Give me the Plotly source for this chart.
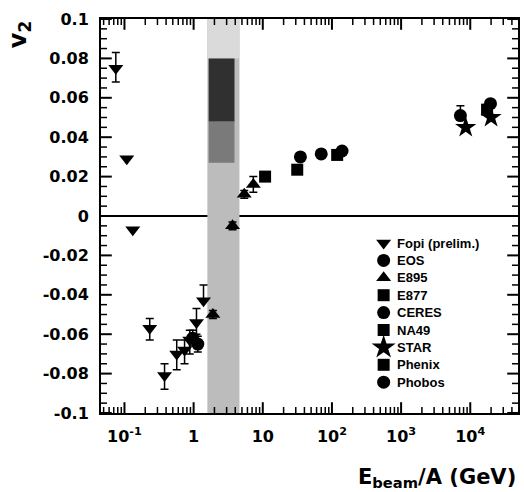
import math
import plotly.graph_objects as go

# ---------------- data ----------------
fopi_x = [0.075, 0.108, 0.132, 0.232, 0.38, 0.57, 0.74, 0.88, 1.1, 1.39]
fopi_y = [0.075, 0.029, -0.007, -0.057, -0.081, -0.070, -0.068, -0.063, -0.054, -0.043]
fopi_ep = [0.008, 0.0, 0.0, 0.005, 0.006, 0.007, 0.005, 0.005, 0.007, 0.008]
fopi_em = [0.007, 0.0, 0.0, 0.006, 0.007, 0.008, 0.007, 0.007, 0.006, 0.0]

eos_x = [0.97, 1.15]
eos_y = [-0.062, -0.065]
eos_err = [0.004, 0.004]

e895_x = [1.9, 3.65, 5.4, 7.3]
e895_y = [-0.050, -0.005, 0.011, 0.016]
e895_err = [0.002, 0.002, 0.002, 0.004]

e877_x = [10.8]
e877_y = [0.020]

ceres_x = [35, 70, 140]
ceres_y = [0.030, 0.0315, 0.033]

na49_x = [31.5, 119]
na49_y = [0.0235, 0.031]

star_x = [8600, 20000]
star_y = [0.045, 0.050]

phenix_x = [17500]
phenix_y = [0.054]

phobos_x = [7200, 19600]
phobos_y = [0.051, 0.057]
phobos_err = [0.005, 0.0]

# gray band (beam-energy window)
band_x = [1.58, 4.6]
band_dark_x = [1.65, 3.9]
band_light_y = [-0.1, 0.1]
band_top_y = [0.08, 0.1]
band_dark_y = [0.048, 0.08]
band_mid_y = [0.027, 0.048]

legend_names = ["Fopi (prelim.)", "EOS", "E895", "E877", "CERES", "NA49", "STAR", "Phenix", "Phobos"]
legend_symbols = ["triangle-down", "circle", "triangle-up", "square", "circle", "square", "star", "square", "circle"]
legend_sizes = [13, 13, 13, 12, 13, 12, 18, 12, 13]

x_tickvals = [0.1, 1, 10, 100, 1000, 10000]
x_ticktext = ["10<sup>-1</sup>", "1", "10", "10<sup>2</sup>", "10<sup>3</sup>", "10<sup>4</sup>"]
y_tickvals = [0.1, 0.08, 0.06, 0.04, 0.02, 0, -0.02, -0.04, -0.06, -0.08, -0.1]
y_ticktext = ["0.1", "0.08", "0.06", "0.04", "0.02", "0", "-0.02", "-0.04", "-0.06", "-0.08", "-0.1"]

FONT = "Liberation Sans"
TICKFONT = "DejaVu Sans"

# ---------------- layout geometry ----------------
W, H = 524, 492
ML, MR, MT, MB = 101, 4, 19, 79
PW, PH = W - ML - MR, H - MT - MB
X_RANGE = [math.log10(0.0458), math.log10(49000)]
Y_RANGE = [-0.1, 0.1]
DEC_PER_PX = (X_RANGE[1] - X_RANGE[0]) / PW
Y_PER_PX = (Y_RANGE[1] - Y_RANGE[0]) / PH

fig = go.Figure()


def rect(xr, yr, color):
    fig.add_trace(go.Scatter(
        x=[xr[0], xr[1], xr[1], xr[0], xr[0]],
        y=[yr[0], yr[0], yr[1], yr[1], yr[0]],
        fill="toself", fillcolor=color, mode="lines",
        line=dict(width=0, color=color), showlegend=False, hoverinfo="skip"))


rect(band_x, band_light_y, "#bcbcbc")
rect(band_x, band_top_y, "#dadada")
rect(band_dark_x, band_mid_y, "#7a7a7a")
rect(band_dark_x, band_dark_y, "#303030")


# ---------------- tick marks drawn as line markers ----------------
def add_ticks(xvals, yvals, length, width):
    half = length / 2.0
    yb = Y_RANGE[0] + half * Y_PER_PX
    yt = Y_RANGE[1] - half * Y_PER_PX
    xl = 10 ** (X_RANGE[0] + half * DEC_PER_PX)
    xr = 10 ** (X_RANGE[1] - half * DEC_PER_PX)
    mk = dict(color="black", size=length, line=dict(color="black", width=width))
    fig.add_trace(go.Scatter(x=list(xvals) * 2, y=[yb] * len(xvals) + [yt] * len(xvals),
                             mode="markers", marker=dict(symbol="line-ns", **mk),
                             showlegend=False, hoverinfo="skip", cliponaxis=False))
    fig.add_trace(go.Scatter(x=[xl] * len(yvals) + [xr] * len(yvals), y=list(yvals) * 2,
                             mode="markers", marker=dict(symbol="line-ew", **mk),
                             showlegend=False, hoverinfo="skip", cliponaxis=False))


minor_x = [m * 10 ** e for e in range(-2, 5) for m in range(2, 10)
           if X_RANGE[0] < math.log10(m * 10 ** e) < X_RANGE[1]]
minor_y = [round(-0.1 + 0.005 * i, 4) for i in range(41) if i % 4 != 0]
add_ticks(x_tickvals, y_tickvals, 9, 2)
add_ticks(minor_x, minor_y, 5, 1.5)


def series(xs, ys, symbol, size, ep=None, em=None):
    err = None
    if ep is not None:
        err = dict(type="data", array=ep, arrayminus=em if em is not None else ep,
                   color="black", thickness=1.5, width=4, visible=True)
    fig.add_trace(go.Scatter(
        x=xs, y=ys, mode="markers", showlegend=False,
        marker=dict(symbol=symbol, size=size, color="black", line=dict(width=0)),
        error_y=err))


series(fopi_x, fopi_y, "triangle-down", 13, fopi_ep, fopi_em)
series(eos_x, eos_y, "circle", 13, eos_err)
series(e895_x, e895_y, "triangle-up", 13, e895_err)
series(e877_x, e877_y, "square", 12)
series(ceres_x, ceres_y, "circle", 13)
series(na49_x, na49_y, "square", 12)
series(star_x, star_y, "star", 16)
series(phenix_x, phenix_y, "square", 12)
series(phobos_x, phobos_y, "circle", 13, phobos_err, [0, 0])

# ---------------- manual legend ----------------
LEG_MARK_X = (385 - ML) / PW
LEG_TEXT_X = (396 - ML) / PW
leg_rows = [(H - MB - (243 + 17.4 * i)) / PH for i in range(len(legend_names))]
for name, sym, sz, ry in zip(legend_names, legend_symbols, legend_sizes, leg_rows):
    fig.add_trace(go.Scatter(x=[LEG_MARK_X], y=[ry], xaxis="x2", yaxis="y2", mode="markers",
                             marker=dict(symbol=sym, size=sz, color="black"),
                             showlegend=False, hoverinfo="skip"))
    fig.add_annotation(text=name, xref="x2", yref="y2", x=LEG_TEXT_X, y=ry,
                       xanchor="left", yanchor="middle", showarrow=False,
                       font=dict(family=FONT, size=13, color="black", weight="bold"))

fig.update_layout(
    width=W, height=H,
    margin=dict(l=ML, r=MR, t=MT, b=MB),
    paper_bgcolor="white", plot_bgcolor="white",
    font=dict(family=FONT, size=17, color="black"),
    showlegend=False,
    xaxis=dict(type="log", range=X_RANGE,
               showgrid=False, zeroline=False,
               showline=True, linecolor="black", linewidth=2, mirror=True,
               ticks="outside", ticklen=8, tickwidth=1, tickcolor="rgba(0,0,0,0)",
               tickmode="array", tickvals=x_tickvals, ticktext=x_ticktext,
               tickfont=dict(family=TICKFONT, size=16, weight="bold")),
    yaxis=dict(range=Y_RANGE, showgrid=False,
               zeroline=True, zerolinecolor="black", zerolinewidth=1.5,
               showline=True, linecolor="black", linewidth=2, mirror=True,
               ticks="outside", ticklen=7, tickwidth=1, tickcolor="rgba(0,0,0,0)",
               tickmode="array", tickvals=y_tickvals, ticktext=y_ticktext,
               tickfont=dict(family=TICKFONT, size=16, weight="bold")),
    xaxis2=dict(domain=[0, 1], range=[0, 1], visible=False, anchor="y2", overlaying="x"),
    yaxis2=dict(domain=[0, 1], range=[0, 1], visible=False, anchor="x2", overlaying="y"),
)

fig.add_annotation(text="<b>E<sub>beam</sub>/A (GeV)</b>", xref="paper", yref="paper",
                   x=1.0, y=-0.165, xanchor="right", yanchor="middle", showarrow=False,
                   font=dict(family=TICKFONT, size=21, color="black"))
fig.add_annotation(text="<b>v<sub>2</sub></b>", xref="paper", yref="paper",
                   x=-0.195, y=1.0, xanchor="center", yanchor="top", textangle=-90, showarrow=False,
                   font=dict(family=TICKFONT, size=24, color="black"))

fig.write_html("out.html")
